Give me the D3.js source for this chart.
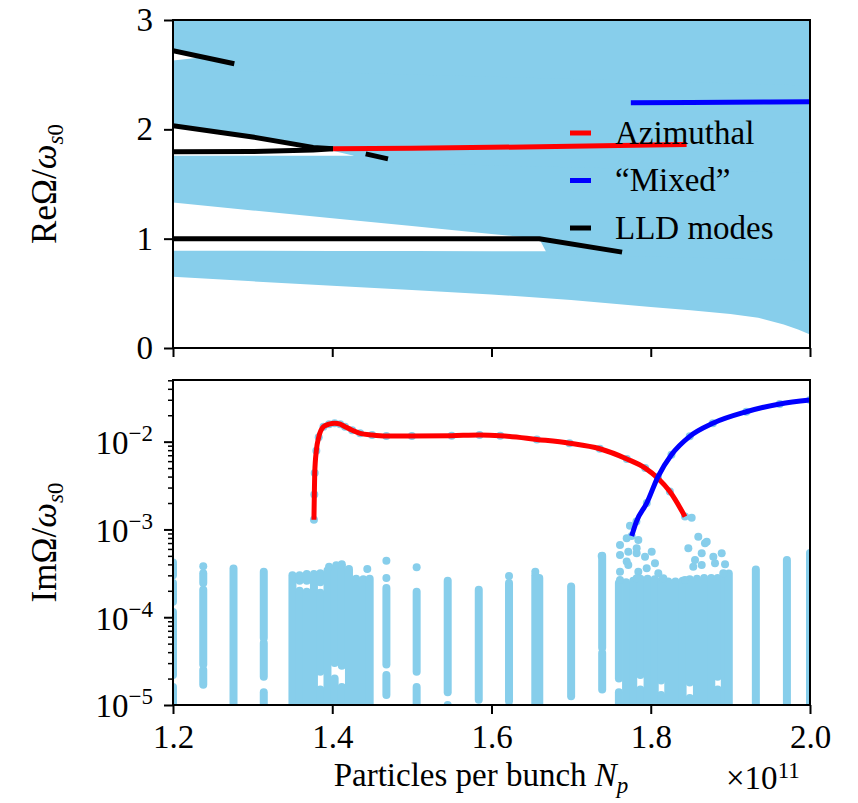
<!DOCTYPE html>
<html><head><meta charset="utf-8">
<script src="https://cdn.jsdelivr.net/npm/d3@7"></script>
<style>
body{margin:0;background:#fff;}
svg{display:block;}
svg text{font-family:"Liberation Serif","Times New Roman",serif;}
</style></head><body>
<svg id="chart" width="858" height="803"></svg>
<script>
// ---------- axis ticks ----------
const xTicks = [1.2, 1.4, 1.6, 1.8, 2.0];          // ×10^11 particles
const reTicks = [0, 1, 2, 3];
const imTicks = [1e-5, 1e-4, 1e-3, 1e-2];
const imTickExp = ["\u22125", "\u22124", "\u22123", "\u22122"];

// ---------- Re Ω: continuous-spectrum bands [Np, lower, upper] ----------
const bandA = [[1.2,0.652,0.89],[1.3,0.61,0.889],[1.4,0.569,0.888],[1.5,0.53,0.887],[1.6,0.49,0.886],
  [1.7,0.44,0.885],[1.8,0.375,0.885],[1.85,0.345,0.885],[1.9,0.31,0.885],[1.935,0.277,0.885],
  [1.967,0.215,0.885],[1.985,0.17,0.885],[2.0,0.123,0.885]];
const bandB = [[1.2,1.33,1.758],[1.3,1.258,1.758],[1.4,1.187,1.758],[1.5,1.115,1.758],[1.6,1.043,1.758],
  [1.66,1.0,1.758],[1.67,0.86,1.758],[2.0,0.8,1.758]];
const bandC = [[1.2,2.035,2.63],[1.238,1.995,2.66],[1.25,1.982,3.1],[1.3,1.93,3.1],[1.376,1.845,3.1],
  [1.426,1.76,3.1],[1.44,1.7,3.1],[2.0,1.6,3.1]];
const bandD = [[1.2,2.70,3.1],[1.238,2.66,3.1],[1.25,2.55,3.1],[2.0,2.4,3.1]];

// ---------- Re Ω: discrete modes [Np, Re] ----------
const lldRe = [
  [[1.2,2.72],[1.277,2.60]],
  [[1.2,2.033],[1.3,1.93],[1.376,1.835],[1.401,1.822]],
  [[1.2,1.795],[1.3,1.797],[1.376,1.81],[1.401,1.822]],
  [[1.442,1.775],[1.47,1.73]],
  [[1.2,1.0],[1.66,1.0],[1.764,0.877]]
];
const azimuthalRe = [[1.401,1.822],[1.5,1.828],[1.6,1.835],[1.7,1.845],[1.8,1.856],[1.845,1.862]];
const mixedRe = [[1.775,2.243],[1.85,2.245],[1.95,2.25],[2.0,2.252]];

// ---------- Im Ω: unstable modes [Np, Im] ----------
const azimuthalIm = [[1.377,1.29e-3],[1.3775,2.5e-3],[1.378,4.4e-3],[1.380,7.9e-3],[1.383,1.12e-2],
  [1.389,1.48e-2],[1.396,1.58e-2],[1.403,1.62e-2],[1.410,1.58e-2],[1.416,1.48e-2],[1.425,1.35e-2],
  [1.435,1.245e-2],[1.45,1.19e-2],[1.468,1.16e-2],[1.5,1.16e-2],[1.55,1.17e-2],[1.585,1.19e-2],
  [1.611,1.17e-2],[1.657,1.06e-2],[1.698,9.6e-3],[1.736,8.3e-3],[1.770,6.35e-3],[1.793,5.0e-3],
  [1.809,3.83e-3],[1.824,2.70e-3],[1.843,1.40e-3]];
const mixedIm = [[1.776,8.4e-4],[1.782,1.23e-3],[1.795,2.0e-3],[1.809,3.98e-3],[1.826,7.1e-3],
  [1.849,1.15e-2],[1.878,1.62e-2],[1.92,2.19e-2],[1.962,2.69e-2],[2.0,2.99e-2]];

// ---------- Im Ω: continuum eigenvalues, vertical runs of points [Np, from, to] ----------
const continuumRuns = [
  [1.2,9e-6,1.6e-5],[1.2,2.2e-5,1.15e-4],[1.2,1.5e-4,2.45e-4],[1.2,3.0e-4,4.2e-4],
  [1.238,1.7e-5,2.5e-5],[1.238,2.9e-5,2.05e-4],[1.238,2.45e-4,3.16e-4],
  [1.276,1.05e-5,3.6e-4],
  [1.314,9e-6,1.4e-5],[1.314,2.1e-5,5.1e-5],[1.314,5.8e-5,3.3e-4],
  [1.350,9e-6,3.0e-4],
  [1.359,9e-6,2.0e-4],[1.359,2.6e-4,3.0e-4],
  [1.368,9e-6,1.95e-4],[1.368,2.6e-4,3.1e-4],
  [1.377,9e-6,3.1e-4],
  [1.385,9e-6,1.5e-5],[1.385,2.4e-5,1.9e-4],[1.385,2.5e-4,3.16e-4],
  [1.394,9e-6,3.4e-4],
  [1.403,9e-6,2.0e-5],[1.403,3.0e-5,3.6e-4],
  [1.412,9e-6,1.6e-5],[1.412,2.8e-5,3.8e-4],
  [1.421,9e-6,3.55e-4],[1.430,9e-6,2.75e-4],[1.439,9e-6,2.7e-4],[1.447,9e-6,2.75e-4],
  [1.468,1.3e-5,2.2e-5],[1.468,2.9e-5,2.15e-4],
  [1.506,1.05e-5,1.6e-5],[1.506,2.4e-5,1.95e-4],
  [1.545,1.4e-5,2.6e-4],
  [1.584,1.15e-5,2.05e-4],
  [1.622,1.1e-5,2.45e-4],
  [1.655,9e-6,3.0e-4],[1.660,9e-6,2.8e-4],
  [1.700,1.26e-5,2.24e-4],
  [1.739,1.5e-5,3.9e-5],[1.739,4.5e-5,5.0e-4],
  [1.760,9e-6,1.4e-5],[1.760,2.0e-5,2.45e-4],
  [1.769,9e-6,2.5e-4],[1.778,9e-6,2.6e-4],
  [1.787,9e-6,1.5e-5],[1.787,2.2e-5,2.75e-4],
  [1.796,9e-6,2.75e-4],[1.805,9e-6,2.7e-4],
  [1.813,9e-6,1.3e-5],[1.813,1.9e-5,2.6e-4],
  [1.822,9e-6,2.55e-4],[1.831,9e-6,2.55e-4],[1.840,9e-6,2.6e-4],
  [1.849,9e-6,1.2e-5],[1.849,1.8e-5,2.7e-4],
  [1.858,9e-6,2.75e-4],[1.867,9e-6,2.8e-4],[1.876,9e-6,2.8e-4],
  [1.884,9e-6,1.5e-5],[1.884,2.1e-5,2.8e-4],
  [1.893,9e-6,2.95e-4],[1.898,9e-6,3.15e-4],
  [1.932,9e-6,3.5e-4],[1.971,9e-6,4.5e-4],[2.0,9e-6,5.4e-4]
];
// isolated continuum points [Np, Im]
const continuumPoints = [
  [1.238,3.8e-4],[1.396,3.75e-4],[1.405,3.9e-4],[1.412,4.0e-4],[1.444,3.55e-4],
  [1.468,4.4e-4],[1.468,2.8e-4],[1.506,3.7e-4],[1.545,1.0e-5],[1.622,2.95e-4],[1.655,3.3e-4],
  [1.7384,4.99e-4],
  [1.7614,6.65e-4],[1.7698,7.94e-4],[1.7739,1.10e-3],[1.7844,7.59e-4],[1.7614,5.12e-4],
  [1.7718,5.58e-4],[1.7823,6.10e-4],[1.7823,5.35e-4],[1.7698,4.30e-4],[1.7718,3.94e-4],
  [1.7928,4.90e-4],[1.8012,5.58e-4],[1.8053,4.12e-4],[1.7844,3.30e-4],[1.7949,3.61e-4],
  [1.7614,3.30e-4],[1.8095,3.17e-4],[1.7614,2.65e-4],[1.7823,2.78e-4],
  [1.8597,8.28e-4],[1.8681,6.95e-4],[1.8703,7.26e-4],[1.8472,6.10e-4],[1.8640,5.35e-4],
  [1.8556,4.49e-4],[1.8640,3.94e-4],[1.8786,4.90e-4],[1.8891,5.35e-4],[1.8807,4.12e-4],
  [1.8933,4.01e-4],[1.8534,3.77e-4],[1.8911,3.17e-4],[1.8158,2.78e-4],[1.8430,2.65e-4],
  [1.8514,1.36e-3]
];

const legendLabels = ["Azimuthal", "\u201CMixed\u201D", "LLD modes"];
const legendColors = ["#ff0000", "#0000ff", "#000000"];

// ---------- layout ----------
const FS = 33, FS_SUB = 23, FS_YLAB = 35;
const L = 173, R = 810, T1 = 20, B1 = 348, T2 = 380, B2 = 705;
const SKY = "#87ceeb";
const svg = d3.select("#chart");

const x = d3.scaleLinear().domain([1.2, 2.0]).range([L, R]);
const yRe = d3.scaleLinear().domain([0, 3]).range([B1, T1]);
const yIm = d3.scaleLog().domain([1e-5, 5.04e-2]).range([B2, T2]);

const defs = svg.append("defs");
defs.append("clipPath").attr("id", "clipTop").append("rect")
  .attr("x", L).attr("y", T1).attr("width", R - L).attr("height", B1 - T1);
defs.append("clipPath").attr("id", "clipBot").append("rect")
  .attr("x", L).attr("y", T2).attr("width", R - L).attr("height", B2 - T2);

// ---------- upper panel: Re Ω ----------
const gTop = svg.append("g").attr("clip-path", "url(#clipTop)");
const band = d3.area().x(d => x(d[0])).y0(d => yRe(d[1])).y1(d => yRe(d[2]));
[bandA, bandB, bandC, bandD].forEach(b =>
  gTop.append("path").attr("d", band(b)).attr("fill", SKY));

const reLine = d3.line().x(d => x(d[0])).y(d => yRe(d[1]));
lldRe.forEach(seg => gTop.append("path").attr("d", reLine(seg))
  .attr("fill", "none").attr("stroke", "#000").attr("stroke-width", 5)
  .attr("stroke-linejoin", "round"));
gTop.append("path").attr("d", reLine(azimuthalRe)).attr("fill", "none")
  .attr("stroke", "#ff0000").attr("stroke-width", 5);
gTop.append("path").attr("d", reLine(mixedRe)).attr("fill", "none")
  .attr("stroke", "#0000ff").attr("stroke-width", 5);

// legend
const leg = svg.append("g");
legendLabels.forEach((t, i) => {
  const yy = 133 + i * 47.5;
  leg.append("line").attr("x1", 570).attr("x2", 591).attr("y1", yy).attr("y2", yy)
    .attr("stroke", legendColors[i]).attr("stroke-width", 5);
  leg.append("text").attr("x", 615).attr("y", yy).attr("dy", "0.32em")
    .attr("font-size", FS).attr("fill", "#000").text(t);
});

// ---------- lower panel: Im Ω ----------
const gBot = svg.append("g").attr("clip-path", "url(#clipBot)");
gBot.selectAll("line.run").data(continuumRuns).join("line").attr("class", "run")
  .attr("x1", d => x(d[0])).attr("x2", d => x(d[0]))
  .attr("y1", d => yIm(d[1])).attr("y2", d => yIm(d[2]))
  .attr("stroke", SKY).attr("stroke-width", 8).attr("stroke-linecap", "round");
gBot.selectAll("circle.pt").data(continuumPoints.concat(azimuthalIm, mixedIm)).join("circle")
  .attr("class", "pt").attr("cx", d => x(d[0])).attr("cy", d => yIm(d[1]))
  .attr("r", 4).attr("fill", SKY);

const imLine = d3.line().x(d => x(d[0])).y(d => yIm(d[1])).curve(d3.curveMonotoneX);
gBot.append("path").attr("d", imLine(azimuthalIm)).attr("fill", "none")
  .attr("stroke", "#ff0000").attr("stroke-width", 5).attr("stroke-linejoin", "round");
gBot.append("path").attr("d", imLine(mixedIm)).attr("fill", "none")
  .attr("stroke", "#0000ff").attr("stroke-width", 5).attr("stroke-linejoin", "round");

// ---------- axes ----------
function styleAxis(g) {
  g.attr("font-family", null).attr("font-size", null);
  g.select(".domain").remove();
  g.selectAll(".tick line").attr("stroke", "#000").attr("stroke-width", 2);
  g.selectAll(".tick text").attr("font-size", FS).attr("fill", "#000");
}
svg.append("g").attr("transform", `translate(0,${B1})`)
  .call(d3.axisBottom(x).tickValues(xTicks).tickSize(9).tickFormat(""))
  .call(styleAxis);
svg.append("g").attr("transform", `translate(0,${B2})`)
  .call(d3.axisBottom(x).tickValues(xTicks).tickSize(9).tickPadding(11).tickFormat(d3.format(".1f")))
  .call(styleAxis);
svg.append("g").attr("transform", `translate(${L},0)`)
  .call(d3.axisLeft(yRe).tickValues(reTicks).tickSize(9).tickPadding(11).tickFormat(d3.format("d")))
  .call(styleAxis);

const isMajor = v => Math.abs(Math.log10(v) - Math.round(Math.log10(v))) < 1e-6;
const minorTicks = yIm.ticks().filter(v => !isMajor(v));
svg.append("g").attr("transform", `translate(${L},0)`)
  .call(d3.axisLeft(yIm).tickValues(minorTicks).tickSize(5).tickFormat(""))
  .call(styleAxis)
  .selectAll(".tick line").attr("stroke-width", 1.5);
const imAxis = svg.append("g").attr("transform", `translate(${L},0)`)
  .call(d3.axisLeft(yIm).tickValues(imTicks).tickSize(9).tickFormat(""))
  .call(styleAxis);
imAxis.selectAll(".tick").each(function (d, i) {
  const t = d3.select(this).append("text").attr("x", -20).attr("dy", "0.36em")
    .attr("text-anchor", "end").attr("font-size", FS).attr("fill", "#000");
  t.append("tspan").text("10");
  t.append("tspan").attr("dy", -13).attr("font-size", FS_SUB).text(imTickExp[i]);
});

// frames
[[T1, B1], [T2, B2]].forEach(([t, b]) =>
  svg.append("rect").attr("x", L).attr("y", t).attr("width", R - L).attr("height", b - t)
    .attr("fill", "none").attr("stroke", "#000").attr("stroke-width", 2));

// ---------- labels ----------
function yLabel(cy, head) {
  const t = svg.append("text").attr("transform", `translate(44,${cy}) rotate(-90)`)
    .attr("text-anchor", "middle").attr("dy", "0.35em").attr("font-size", FS_YLAB).attr("fill", "#000");
  t.append("tspan").text(head + "\u03A9/");
  t.append("tspan").attr("font-style", "italic").text("\u03C9");
  t.append("tspan").attr("dy", 7).attr("font-size", FS_SUB).attr("font-style", "italic").text("s");
  t.append("tspan").attr("font-size", FS_SUB).text("0");
}
yLabel((T1 + B1) / 2, "Re");
yLabel((T2 + B2) / 2, "Im");

const xl = svg.append("text").attr("x", 481).attr("y", 786).attr("text-anchor", "middle")
  .attr("font-size", FS).attr("fill", "#000");
xl.append("tspan").text("Particles per bunch ");
xl.append("tspan").attr("font-style", "italic").text("N");
xl.append("tspan").attr("font-style", "italic").attr("font-size", FS_SUB).attr("dy", 7).text("p");

const xs = svg.append("text").attr("x", 726).attr("y", 789).attr("font-size", FS).attr("fill", "#000");
xs.append("tspan").text("\u00D710");
xs.append("tspan").attr("dy", -11).attr("font-size", FS_SUB).text("11");
</script>
</body></html>
